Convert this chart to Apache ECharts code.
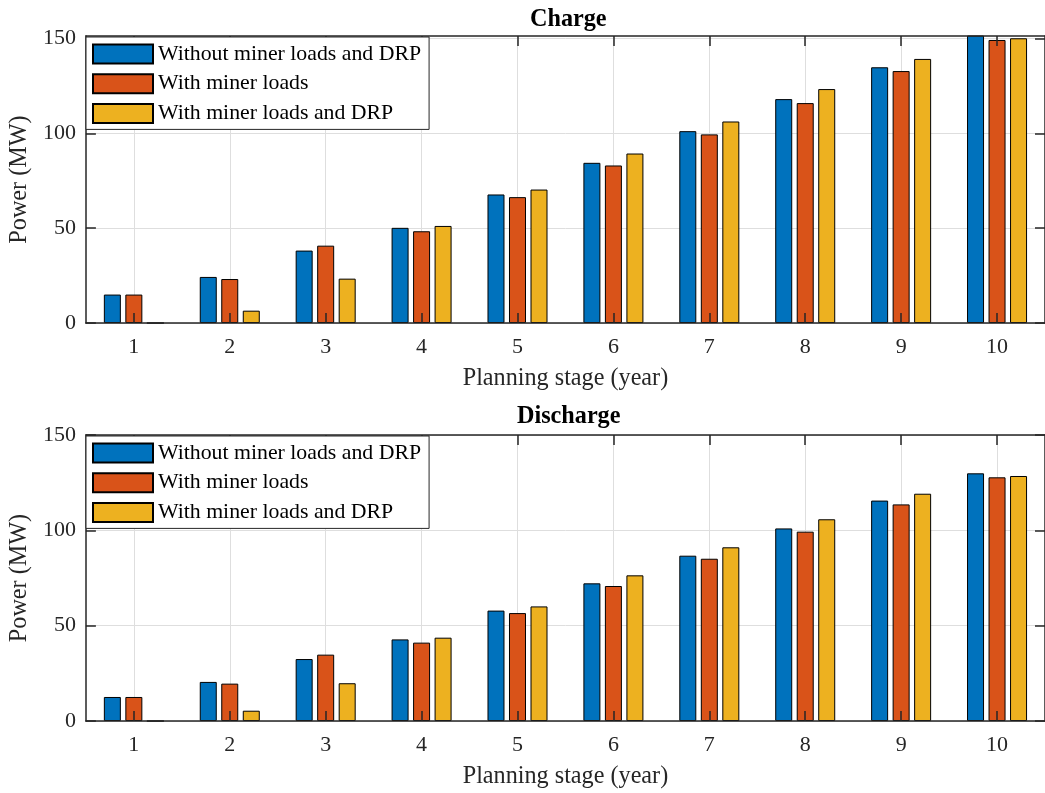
<!DOCTYPE html>
<html>
<head>
<meta charset="utf-8">
<script src="https://cdn.jsdelivr.net/npm/echarts@6/dist/echarts.min.js"></script>
<style>
html,body{margin:0;padding:0;background:#ffffff;}
#chart{width:1045px;height:793px;}
</style>
</head>
<body>
<div id="chart"></div>
<script>
// ---------- data ----------
const stages = [1, 2, 3, 4, 5, 6, 7, 8, 9, 10];
const stageLabels = ['1', '2', '3', '4', '5', '6', '7', '8', '9', '10'];
const yTicks = [0, 50, 100, 150];
const seriesNames = ['Without miner loads and DRP', 'With miner loads', 'With miner loads and DRP'];
const panelTitles = ['Charge', 'Discharge'];
const xTitle = 'Planning stage (year)';
const yTitle = 'Power (MW)';

const chargeWithout   = [15.0, 24.3, 38.2, 50.2, 67.8, 84.5, 101.2, 118.1, 134.9, 152.0];
const chargeMiner     = [15.0, 23.2, 40.8, 48.4, 66.4, 83.1, 99.5, 116.0, 132.9, 149.3];
const chargeMinerDRP  = [0, 6.5, 23.4, 51.2, 70.4, 89.4, 106.3, 123.4, 139.3, 150.2];

const dischargeWithout  = [12.6, 20.5, 32.5, 42.8, 57.9, 72.2, 86.7, 101.0, 115.6, 129.9];
const dischargeMiner    = [12.6, 19.6, 34.8, 41.1, 56.6, 70.8, 85.1, 99.3, 113.6, 127.8];
const dischargeMinerDRP = [0, 5.4, 19.8, 43.7, 60.1, 76.4, 91.1, 105.8, 119.2, 128.5];

const panelData = [
  [chargeWithout, chargeMiner, chargeMinerDRP],
  [dischargeWithout, dischargeMiner, dischargeMinerDRP]
];
const yMax = [151.4, 150];

// ---------- style ----------
const colors = ['#0072BD', '#D95319', '#EDB120'];
const FONT = 'Liberation Serif, Times New Roman, serif';
const AX = '#262626';
const grids = [
  {left: 84, top: 36, width: 967, height: 287},
  {left: 84, top: 435, width: 967, height: 286}
];

const xAxes = [], yAxes = [], series = [], legends = [], titles = [];
const xLo = stages[0] - 0.5, xHi = stages[stages.length - 1] + 0.5;
const labelMap = {};
stages.forEach((s, i) => { labelMap[s] = stageLabels[i]; });

grids.forEach((g, gi) => {
  const xPrim = xAxes.length;
  xAxes.push({
    type: 'value', gridIndex: gi, position: 'bottom', min: xLo, max: xHi, z: 3,
    axisLine: {show: true, onZero: false, lineStyle: {color: AX, width: 1.5}},
    axisTick: {show: true, inside: true, length: 10, customValues: stages, lineStyle: {color: AX, width: 1.5}},
    axisLabel: {show: true, customValues: stages, margin: 13, formatter: v => labelMap[v] || '',
      fontFamily: FONT, fontSize: 22, color: AX},
    splitLine: {show: false},
    name: xTitle, nameLocation: 'middle', nameGap: 44,
    nameTextStyle: {fontFamily: FONT, fontSize: 24.2, color: AX}
  });
  xAxes.push({
    type: 'value', gridIndex: gi, position: 'bottom', min: xLo, max: xHi, z: 0,
    axisLine: {show: false}, axisLabel: {show: false},
    axisTick: {show: false, customValues: stages},
    splitLine: {show: true, lineStyle: {color: '#dedede', width: 1}}
  });
  xAxes.push({
    type: 'value', gridIndex: gi, position: 'top', min: xLo, max: xHi, z: 3,
    axisLine: {show: true, onZero: false, lineStyle: {color: AX, width: 1.5}},
    axisTick: {show: true, inside: true, length: 10, customValues: stages, lineStyle: {color: AX, width: 1.5}},
    axisLabel: {show: false}, splitLine: {show: false}
  });

  const yPrim = yAxes.length;
  yAxes.push({
    type: 'value', gridIndex: gi, position: 'left', min: 0, max: yMax[gi], interval: 50, z: 3,
    axisLine: {show: true, onZero: false, lineStyle: {color: AX, width: 1.5}},
    axisTick: {show: true, inside: true, length: 10, customValues: yTicks, lineStyle: {color: AX, width: 1.5}},
    axisLabel: {show: true, customValues: yTicks, margin: 10, fontFamily: FONT, fontSize: 22, color: AX},
    splitLine: {show: false},
    name: yTitle, nameLocation: 'middle', nameGap: 51,
    nameTextStyle: {fontFamily: FONT, fontSize: 24.2, color: AX}
  });
  yAxes.push({
    type: 'value', gridIndex: gi, position: 'left', min: 0, max: yMax[gi], interval: 50, z: 0,
    axisLine: {show: false}, axisLabel: {show: false},
    axisTick: {show: false, customValues: yTicks},
    splitLine: {show: true, lineStyle: {color: '#dedede', width: 1}}
  });
  yAxes.push({
    type: 'value', gridIndex: gi, position: 'right', min: 0, max: yMax[gi], interval: 50, z: 3,
    axisLine: {show: true, onZero: false, lineStyle: {color: AX, width: 1.5}},
    axisTick: {show: true, inside: true, length: 10, customValues: yTicks, lineStyle: {color: AX, width: 1.5}},
    axisLabel: {show: false}, splitLine: {show: false}
  });

  panelData[gi].forEach((vals, si) => {
    series.push({
      type: 'bar', name: seriesNames[si],
      xAxisIndex: xPrim, yAxisIndex: yPrim,
      data: stages.map((s, i) => [s, vals[i]]),
      barWidth: 17, barGap: '26.5%', clip: true,
      itemStyle: {color: colors[si], borderColor: '#000', borderWidth: 1},
      emphasis: {disabled: true}, silent: true, z: 2
    });
  });

  legends.push({
    orient: 'vertical', left: g.left + 2, top: g.top + 1,
    padding: [6, 8, 5, 6], itemWidth: 60, itemHeight: 19, itemGap: 7.7,
    icon: 'rect', backgroundColor: '#ffffff', borderColor: AX, borderWidth: 1, borderRadius: 0,
    selectedMode: false, data: seriesNames,
    textStyle: {fontFamily: FONT, fontSize: 21.8, color: '#000', lineHeight: 19}
  });
});

titles.push({text: panelTitles[0], left: 530, top: 8, padding: 0,
  textStyle: {fontFamily: FONT, fontSize: 24.2, fontWeight: 'bold', color: '#000'}});
titles.push({text: panelTitles[1], left: 517, top: 405, padding: 0,
  textStyle: {fontFamily: FONT, fontSize: 24.2, fontWeight: 'bold', color: '#000'}});

const chart = echarts.init(document.getElementById('chart'), null, {renderer: 'canvas'});
chart.setOption({
  animation: false,
  backgroundColor: '#ffffff',
  title: titles,
  legend: legends,
  grid: grids,
  xAxis: xAxes,
  yAxis: yAxes,
  series: series
});
</script>
</body>
</html>
